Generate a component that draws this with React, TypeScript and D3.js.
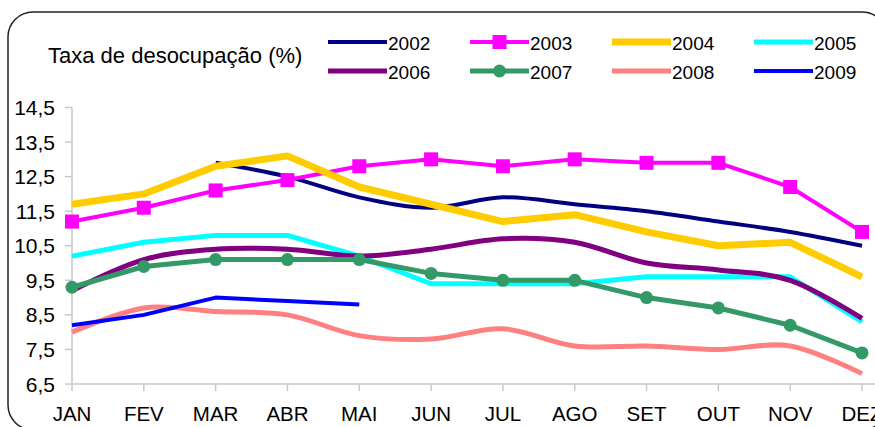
import { useMemo } from "react";
import * as d3 from "d3";

const months = ["JAN", "FEV", "MAR", "ABR", "MAI", "JUN", "JUL", "AGO", "SET", "OUT", "NOV", "DEZ"];
const yTicks = [6.5, 7.5, 8.5, 9.5, 10.5, 11.5, 12.5, 13.5, 14.5];

const v2002 = [null, null, 12.9, 12.5, 11.9, 11.6, 11.9, 11.7, 11.5, 11.2, 10.9, 10.5];
const v2003 = [11.2, 11.6, 12.1, 12.4, 12.8, 13.0, 12.8, 13.0, 12.9, 12.9, 12.2, 10.9];
const v2004 = [11.7, 12.0, 12.8, 13.1, 12.2, 11.7, 11.2, 11.4, 10.9, 10.5, 10.6, 9.6];
const v2005 = [10.2, 10.6, 10.8, 10.8, 10.2, 9.4, 9.4, 9.4, 9.6, 9.6, 9.6, 8.3];
const v2006 = [9.2, 10.1, 10.4, 10.4, 10.2, 10.4, 10.7, 10.6, 10.0, 9.8, 9.5, 8.4];
const v2007 = [9.3, 9.9, 10.1, 10.1, 10.1, 9.7, 9.5, 9.5, 9.0, 8.7, 8.2, 7.4];
const v2008 = [8.0, 8.7, 8.6, 8.5, 7.9, 7.8, 8.1, 7.6, 7.6, 7.5, 7.6, 6.8];
const v2009 = [8.2, 8.5, 9.0, 8.9, 8.8, null, null, null, null, null, null, null];

type Series = {
  name: string;
  values: (number | null)[];
  color: string;
  width: number;
  smooth: boolean;
  marker?: "square" | "circle";
};

const series: Series[] = [
  { name: "2002", values: v2002, color: "#000080", width: 4, smooth: true },
  { name: "2003", values: v2003, color: "#FF00FF", width: 4, smooth: false, marker: "square" },
  { name: "2004", values: v2004, color: "#FFCC00", width: 7, smooth: false },
  { name: "2005", values: v2005, color: "#00FFFF", width: 5, smooth: false },
  { name: "2006", values: v2006, color: "#800080", width: 5, smooth: true },
  { name: "2007", values: v2007, color: "#339966", width: 5, smooth: false, marker: "circle" },
  { name: "2008", values: v2008, color: "#FF8080", width: 5, smooth: true },
  { name: "2009", values: v2009, color: "#0000FF", width: 4, smooth: false },
];

const FONT = "'Liberation Sans', Arial, sans-serif";

const Marker = ({ type, x, y, color }: { type?: string; x: number; y: number; color: string }) => {
  if (type === "square") {
    return <rect x={x - 7} y={y - 7} width={14} height={14} fill={color} />;
  }
  if (type === "circle") {
    return <circle cx={x} cy={y} r={6.5} fill={color} />;
  }
  return null;
};

export default function App() {
  const width = 875;
  const height = 427;

  const xScale = useMemo(() => d3.scalePoint<string>().domain(months).range([72, 862]), []);
  const yScale = useMemo(() => d3.scaleLinear().domain([6.5, 14.5]).range([384, 107.5]), []);

  const lineFor = (s: Series) =>
    d3
      .line<number | null>()
      .defined((d) => d !== null)
      .x((_, i) => xScale(months[i]) ?? 0)
      .y((d) => yScale(d as number))
      .curve(s.smooth ? d3.curveCardinal.tension(0) : d3.curveLinear)(s.values) ?? "";

  // legend: 4 columns, 2 rows
  const legendCols = [328, 470, 612, 754];
  const legendRows = [42, 71];

  return (
    <div style={{ position: "absolute", left: 0, top: 0 }}>
      <svg width={width} height={height} style={{ display: "block", fontFamily: FONT }}>
        <rect x={0} y={0} width={width} height={height} fill="white" />
        <rect x={8} y={12} width={879} height={418} rx={25} ry={25} fill="white" stroke="#222" strokeWidth={1.5} />

        <text x={48} y={63} fontSize={22} fill="#000">
          Taxa de desocupação (%)
        </text>

        {series.map((s, i) => {
          const lx = legendCols[i % 4];
          const ly = legendRows[Math.floor(i / 4)];
          return (
            <g key={s.name}>
              <line x1={lx} x2={lx + 59} y1={ly} y2={ly} stroke={s.color} strokeWidth={s.width} />
              <Marker type={s.marker} x={lx + 29.5} y={ly} color={s.color} />
              <text x={lx + 60} y={ly + 8} fontSize={19} fill="#000">
                {s.name}
              </text>
            </g>
          );
        })}

        {/* axes */}
        <line x1={72} x2={72} y1={yScale(14.5)} y2={yScale(6.5)} stroke="#c8c8c8" strokeWidth={1.5} />
        <line x1={72} x2={880} y1={yScale(6.5)} y2={yScale(6.5)} stroke="#c8c8c8" strokeWidth={1.5} />
        {yTicks.map((t) => (
          <g key={t}>
            <line x1={65} x2={72} y1={yScale(t)} y2={yScale(t)} stroke="#c8c8c8" strokeWidth={1.5} />
            <text x={55} y={yScale(t)} dy="0.36em" textAnchor="end" fontSize={21} fill="#000">
              {d3.format(".1f")(t).replace(".", ",")}
            </text>
          </g>
        ))}
        {months.map((m) => (
          <g key={m}>
            <line x1={xScale(m)} x2={xScale(m)} y1={384} y2={391} stroke="#c8c8c8" strokeWidth={1.5} />
            <text x={xScale(m)} y={421} textAnchor="middle" fontSize={20.5} fill="#000">
              {m}
            </text>
          </g>
        ))}

        {/* series */}
        {series.map((s) => (
          <g key={s.name}>
            <path d={lineFor(s)} fill="none" stroke={s.color} strokeWidth={s.width} strokeLinejoin="round" />
            {s.values.map((v, i) =>
              v === null ? null : (
                <Marker key={i} type={s.marker} x={xScale(months[i]) ?? 0} y={yScale(v)} color={s.color} />
              )
            )}
          </g>
        ))}
      </svg>
    </div>
  );
}
